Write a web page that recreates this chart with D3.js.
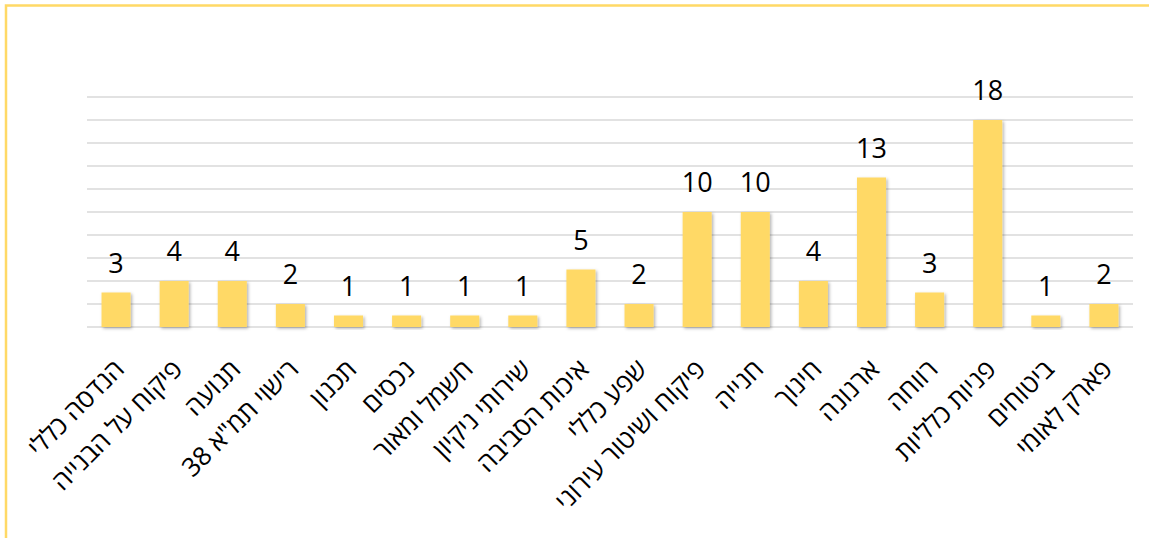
<!DOCTYPE html>
<html lang="he">

<head>
    <meta charset="UTF-8">
    <title>Bar chart</title>
    <script src="https://cdn.jsdelivr.net/npm/d3@7"></script>
    <style>
        html,
        body {
            margin: 0;
            padding: 0;
            background: #fff;
        }

        svg {
            display: block;
            font-family: "Open Sans", "Liberation Sans", "DejaVu Sans", sans-serif;
        }
    </style>
</head>

<body>
    <div id="chart"></div>
    <script>
        // Data
        const categories = [
            'הנדסה כללי', 'פיקוח על הבנייה', 'תנועה', 'רישוי תמ"א 38', 'תכנון', 'נכסים',
            'חשמל ומאור', 'שירותי ניקיון', 'איכות הסביבה', 'שפע כללי', 'פיקוח ושיטור עירוני',
            'חנייה', 'חינוך', 'ארנונה', 'רווחה', 'פניות כלליות', 'ביטוחים', 'פארק לאומי'
        ];
        const values = [3, 4, 4, 2, 1, 1, 1, 1, 5, 2, 10, 10, 4, 13, 3, 18, 1, 2];
        const gridTicks = [0, 2, 4, 6, 8, 10, 12, 14, 16, 18, 20];

        const width = 1149;
        const height = 538;
        const margin = { top: 97, right: 16, bottom: 211, left: 87 };

        const svg = d3.select('#chart').append('svg')
            .attr('width', width)
            .attr('height', height);

        // soft shadow like the office chart
        const defs = svg.append('defs');
        const shadow = defs.append('filter')
            .attr('id', 'shadow')
            .attr('x', '-20%').attr('y', '-10%')
            .attr('width', '150%').attr('height', '130%');
        shadow.append('feDropShadow')
            .attr('dx', 1.5).attr('dy', 1.5)
            .attr('stdDeviation', 1.5)
            .attr('flood-color', '#000')
            .attr('flood-opacity', 0.3);

        // chart frame (top and left edges visible)
        svg.append('rect')
            .attr('x', 6)
            .attr('y', 5.5)
            .attr('width', width + 20)
            .attr('height', height + 20)
            .attr('fill', 'none')
            .attr('stroke', '#FFD966')
            .attr('stroke-width', 2.5);

        const x = d3.scaleBand()
            .domain(categories)
            .range([margin.left, width - margin.right])
            .paddingInner(0.5)
            .paddingOuter(0.25);

        const y = d3.scaleLinear()
            .domain([0, 20])
            .range([height - margin.bottom, margin.top]);

        // gridlines
        svg.append('g')
            .selectAll('line')
            .data(gridTicks)
            .join('line')
            .attr('x1', margin.left)
            .attr('x2', width - margin.right)
            .attr('y1', d => y(d))
            .attr('y2', d => y(d))
            .attr('stroke', '#D9D9D9')
            .attr('stroke-width', 1.5);

        // bars
        svg.append('g')
            .selectAll('rect')
            .data(values)
            .join('rect')
            .attr('x', (d, i) => x(categories[i]))
            .attr('y', d => y(d))
            .attr('width', x.bandwidth())
            .attr('height', d => y(0) - y(d))
            .attr('fill', '#FFD966')
            .attr('filter', 'url(#shadow)');

        // value labels
        svg.append('g')
            .selectAll('text')
            .data(values)
            .join('text')
            .attr('x', (d, i) => x(categories[i]) + x.bandwidth() / 2)
            .attr('y', d => y(d) - 20)
            .attr('text-anchor', 'middle')
            .attr('font-size', 27)
            .attr('fill', '#000')
            .text(d => d);

        // category labels, rotated
        svg.append('g')
            .selectAll('text')
            .data(categories)
            .join('text')
            .attr('transform', d => `translate(${x(d) + x.bandwidth() / 2 - 4},${y(0) + 30}) rotate(-45)`)
            .attr('text-anchor', 'end')
            .attr('dy', '0.75em')
            .attr('font-size', 26)
            .attr('fill', '#000')
            .text(d => d);
    </script>
</body>

</html>
